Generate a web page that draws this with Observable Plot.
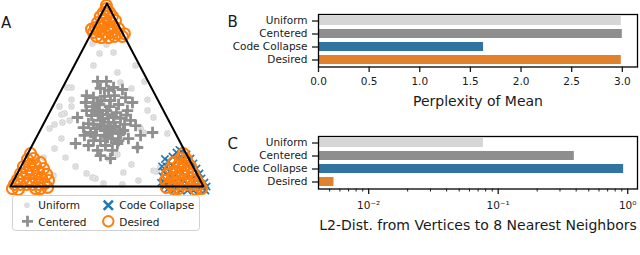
<!DOCTYPE html>
<html><head><meta charset="utf-8">
<script src="https://cdn.jsdelivr.net/npm/d3@7"></script>
<script src="https://cdn.jsdelivr.net/npm/@observablehq/plot@0.6"></script>
<style>
html,body{margin:0;padding:0;background:#fff;}
body{width:640px;height:255px;position:relative;overflow:hidden;font-family:"DejaVu Sans",sans-serif;}
.panel{position:absolute;}
.panel svg{background:transparent !important;overflow:visible;}
#overlay{position:absolute;left:0;top:0;pointer-events:none;}
g[aria-label="x-axis label"] text{font-size:14px;}
</style>
</head><body>
<div id="pa" class="panel" style="left:0;top:0"></div>
<div id="pb" class="panel" style="left:220px;top:0"></div>
<div id="pc" class="panel" style="left:220px;top:120px"></div>
<script>
// ---- Panel A: simplex scatter (u along base 0..1, v height 0..1) ----
const simplexVertices = [[0,0],[1,0],[0.5,1],[0,0]];
const uniformPts = [[0.425,0.781],[0.497,0.776],[0.461,0.727],[0.534,0.732],[0.430,0.661],[0.648,0.661],[0.554,0.623],[0.694,0.574],[0.570,0.568],[0.627,0.536],[0.295,0.541],[0.316,0.541],[0.316,0.475],[0.710,0.475],[0.254,0.437],[0.316,0.437],[0.264,0.393],[0.280,0.399],[0.306,0.361],[0.710,0.415],[0.741,0.377],[0.202,0.317],[0.228,0.339],[0.269,0.350],[0.674,0.317],[0.689,0.295],[0.813,0.290],[0.264,0.262],[0.228,0.208],[0.658,0.213],[0.171,0.158],[0.285,0.158],[0.554,0.175],[0.508,0.153],[0.627,0.120],[0.337,0.109],[0.756,0.082],[0.777,0.104],[0.223,0.060],[0.394,0.071],[0.425,0.049],[0.440,0.044],[0.585,0.077],[0.663,0.033],[0.580,0.011],[0.482,0.016],[0.865,0.137],[0.741,0.087]];
const centeredPts = [[0.451,0.574],[0.497,0.574],[0.466,0.536],[0.534,0.541],[0.580,0.530],[0.596,0.486],[0.394,0.497],[0.430,0.486],[0.451,0.454],[0.389,0.459],[0.347,0.377],[0.337,0.235],[0.736,0.295],[0.648,0.333],[0.658,0.213],[0.518,0.153],[0.451,0.197],[0.554,0.235],[0.378,0.322],[0.497,0.415],[0.534,0.377],[0.466,0.361],[0.404,0.344],[0.606,0.415],[0.611,0.262],[0.570,0.290],[0.503,0.268],[0.430,0.251],[0.415,0.295],[0.487,0.492],[0.518,0.470],[0.560,0.448],[0.440,0.415],[0.477,0.393],[0.508,0.350],[0.544,0.328],[0.446,0.317],[0.487,0.306],[0.528,0.290],[0.466,0.251],[0.420,0.388],[0.570,0.372],[0.591,0.339],[0.461,0.448],[0.513,0.437],[0.549,0.404],[0.482,0.333],[0.518,0.317],[0.440,0.279],[0.560,0.251],[0.492,0.224],[0.528,0.197],[0.466,0.169],[0.404,0.224],[0.622,0.361],[0.585,0.306],[0.394,0.415],[0.632,0.459],[0.425,0.437],[0.539,0.497],[0.508,0.525],[0.674,0.279],[0.383,0.279],[0.477,0.372],[0.503,0.393],[0.523,0.262],[0.455,0.400],[0.535,0.350],[0.490,0.280],[0.560,0.300],[0.430,0.340],[0.600,0.390],[0.470,0.470]];
const collapsePts = [[0.860,0.186],[0.886,0.191],[0.912,0.175],[0.839,0.164],[0.933,0.153],[0.819,0.137],[0.870,0.153],[0.902,0.142],[0.948,0.126],[0.808,0.109],[0.839,0.115],[0.922,0.115],[0.964,0.098],[0.793,0.082],[0.824,0.082],[0.881,0.098],[0.979,0.071],[0.788,0.055],[0.855,0.060],[0.912,0.055],[0.990,0.044],[0.793,0.027],[0.829,0.022],[0.943,0.044],[1.005,0.022],[0.798,0.000],[0.870,0.016],[0.964,0.011],[1.016,0.000],[0.813,-0.016],[0.845,-0.022],[0.881,-0.022],[0.917,-0.022],[0.948,-0.022],[0.979,-0.016],[1.010,-0.022],[0.902,0.027],[0.927,0.000],[0.829,0.055],[0.969,0.038],[0.785,0.110],[0.800,0.150],[0.875,0.200],[0.780,0.020]];
const desiredPts = [
 [0.497,0.973],[0.482,0.951],[0.513,0.951],[0.466,0.929],[0.497,0.929],[0.528,0.929],[0.451,0.896],[0.482,0.907],[0.513,0.902],[0.544,0.907],[0.440,0.869],[0.472,0.874],[0.503,0.869],[0.534,0.874],[0.560,0.863],[0.430,0.842],[0.461,0.847],[0.492,0.836],[0.523,0.842],[0.554,0.836],[0.580,0.820],[0.446,0.820],[0.508,0.814],[0.539,0.820],[0.472,0.814],[0.487,0.885],[0.518,0.863],[0.497,0.989],[0.590,0.835],[0.420,0.860],
 [0.021,0.011],[0.052,0.011],[0.083,0.011],[0.114,0.011],[0.145,0.011],[0.176,0.016],[0.197,0.033],[0.036,0.038],[0.067,0.044],[0.098,0.038],[0.130,0.044],[0.161,0.049],[0.187,0.066],[0.052,0.071],[0.083,0.077],[0.114,0.077],[0.145,0.082],[0.171,0.098],[0.067,0.109],[0.098,0.115],[0.130,0.115],[0.155,0.131],[0.088,0.148],[0.119,0.153],[0.104,0.180],[0.010,-0.011],[0.041,-0.016],[0.155,-0.011],[0.192,-0.005],[0.130,-0.011],
 [0.979,0.011],[0.948,0.011],[0.917,0.011],[0.886,0.011],[0.855,0.011],[0.824,0.016],[0.803,0.033],[0.964,0.038],[0.933,0.044],[0.902,0.038],[0.870,0.044],[0.839,0.049],[0.813,0.066],[0.948,0.071],[0.917,0.077],[0.886,0.077],[0.855,0.082],[0.829,0.098],[0.933,0.109],[0.902,0.115],[0.870,0.115],[0.845,0.131],[0.912,0.148],[0.881,0.153],[0.896,0.180],[0.990,-0.011],[0.959,-0.016],[0.845,-0.011],[0.808,-0.005],[0.870,-0.011]];

// ---- Panels B and C: bars ----
const categories = ["Uniform", "Centered", "Code Collapse", "Desired"];
const perplexityOfMean = [2.99, 3.0, 1.63, 2.99];
const l2DistNeighbors = [0.077, 0.387, 0.93, 0.0054];
const barColors = ["#d6d6d6", "#8e8e8e", "#3274a1", "#e1812c"];
const ticksB = [0, 0.5, 1, 1.5, 2, 2.5, 3];
const majorTicksC = [0.01, 0.1, 1];
const majorLabelsC = ["10\u207B\u00B2", "10\u207B\u00B9", "10\u2070"];
const minorTicksC = [0.005,0.006,0.007,0.008,0.009,0.02,0.03,0.04,0.05,0.06,0.07,0.08,0.09,0.2,0.3,0.4,0.5,0.6,0.7,0.8,0.9];
const legendItems = ["Uniform", "Code Collapse", "Centered", "Desired"];

const U = d => d[0], V = d => d[1];
const font = {fontFamily: "DejaVu Sans", fontSize: "10.5px", color: "#1a1a1a", background: "transparent", overflow: "visible"};

const plotA = Plot.plot({
  width: 215, height: 195, margin: 0,
  style: font,
  x: {domain: [0, 1], range: [10, 203], axis: null},
  y: {domain: [0, 1], range: [186, 3], axis: null},
  marks: [
    Plot.dot(uniformPts, {x: U, y: V, r: 3.2, fill: "#d3d3d3"}),
    Plot.dot(uniformPts, {x: U, y: V, r: 1.7, fill: "none", stroke: "#f2f2f2", strokeWidth: 0.8}),
    Plot.dot(centeredPts, {x: U, y: V, symbol: "plus", r: 3.8, stroke: "#909090", strokeWidth: 2.8}),
    Plot.dot(collapsePts, {x: U, y: V, symbol: "times", r: 3.4, stroke: "#1f77b4", strokeWidth: 1.6}),
    Plot.dot(desiredPts, {x: U, y: V, r: 5.5, fill: "none", stroke: "#ff7f0e", strokeWidth: 2.1}),
    Plot.line(simplexVertices, {x: U, y: V, stroke: "#000", strokeWidth: 2})
  ]
});
document.getElementById("pa").append(plotA);

const dataB = categories.map((c, i) => ({name: c, value: perplexityOfMean[i]}));
const dataC = categories.map((c, i) => ({name: c, value: l2DistNeighbors[i]}));
const yScale = {domain: categories, paddingInner: 0.28, paddingOuter: 0.14, label: null};
const colorScale = {domain: categories, range: barColors};

const plotB = Plot.plot({
  width: 420, height: 115,
  marginLeft: 98, marginRight: 3, marginTop: 14, marginBottom: 48.5,
  style: font,
  x: {domain: [0, 3.15], label: null},
  y: yScale,
  color: colorScale,
  marks: [
    Plot.barX(dataB, {x: "value", y: "name", fill: "name"}),
    Plot.frame({stroke: "#000", strokeWidth: 1.3}),
    Plot.axisY({tickSize: 6, tickPadding: 5, strokeWidth: 1.3, label: null}),
    Plot.axisX({ticks: ticksB, tickFormat: d3.format(".1f"), tickSize: 5.5, tickPadding: 5, strokeWidth: 1.3,
      label: "Perplexity of Mean", labelAnchor: "center", labelArrow: "none", labelOffset: 39})
  ]
});
document.getElementById("pb").append(plotB);

const xDomainC = [0.0041, 1.19];
const plotC = Plot.plot({
  width: 420, height: 135,
  marginLeft: 98, marginRight: 3, marginTop: 16, marginBottom: 66.5,
  style: font,
  x: {type: "log", domain: xDomainC, label: null},
  y: yScale,
  color: colorScale,
  marks: [
    Plot.barX(dataC, {x1: xDomainC[0], x2: "value", y: "name", fill: "name"}),
    Plot.frame({stroke: "#000", strokeWidth: 1.3}),
    Plot.axisY({tickSize: 6, tickPadding: 5, strokeWidth: 1.3, label: null}),
    Plot.axisX({ticks: minorTicksC, tickFormat: () => "", tickSize: 3, strokeWidth: 1, label: null}),
    Plot.axisX({ticks: majorTicksC, tickFormat: d => majorLabelsC[majorTicksC.indexOf(d)], tickSize: 5.5, tickPadding: 7, strokeWidth: 1.3,
      label: "L2-Dist. from Vertices to 8 Nearest Neighbors", labelAnchor: "center", labelArrow: "none", labelOffset: 41})
  ]
});
document.getElementById("pc").append(plotC);

// ---- Overlay: panel letters and legend ----
const svg = d3.select("body").append("svg").attr("id", "overlay")
  .attr("width", 640).attr("height", 255)
  .style("font-family", "DejaVu Sans").style("fill", "#1a1a1a");
[["A", 1, 28], ["B", 227.5, 26.5], ["C", 227.5, 148.5]].forEach(([t, x, y]) =>
  svg.append("text").attr("x", x).attr("y", y).attr("font-size", 15).text(t));
const lg = svg.append("g");
lg.append("rect").attr("x", 12.5).attr("y", 195.5).attr("width", 187).attr("height", 35).attr("rx", 3)
  .attr("fill", "#fff").attr("fill-opacity", 0.85).attr("stroke", "#d0d0d0");
lg.append("circle").attr("cx", 27).attr("cy", 205.3).attr("r", 2.7).attr("fill", "#d3d3d3");
lg.append("circle").attr("cx", 27).attr("cy", 205.3).attr("r", 1.4).attr("fill", "none").attr("stroke", "#f2f2f2").attr("stroke-width", 0.7);
lg.append("path").attr("d", "M-4.6,-4.6L4.6,4.6M-4.6,4.6L4.6,-4.6").attr("transform", "translate(108.3,205.3)")
  .attr("stroke", "#1f77b4").attr("stroke-width", 2.6).attr("fill", "none");
lg.append("path").attr("d", "M-5.5,0L5.5,0M0,-5.5L0,5.5").attr("transform", "translate(27.5,221.3)")
  .attr("stroke", "#909090").attr("stroke-width", 2.8).attr("fill", "none");
lg.append("circle").attr("cx", 108.3).attr("cy", 221.3).attr("r", 5.2).attr("fill", "none").attr("stroke", "#ff7f0e").attr("stroke-width", 2);
[[legendItems[0], 38.3, 209.3], [legendItems[1], 119.3, 209.3], [legendItems[2], 38.3, 225.6], [legendItems[3], 119.3, 225.6]]
  .forEach(([t, x, y]) => lg.append("text").attr("x", x).attr("y", y).attr("font-size", 10.5).text(t));
</script>
</body></html>
